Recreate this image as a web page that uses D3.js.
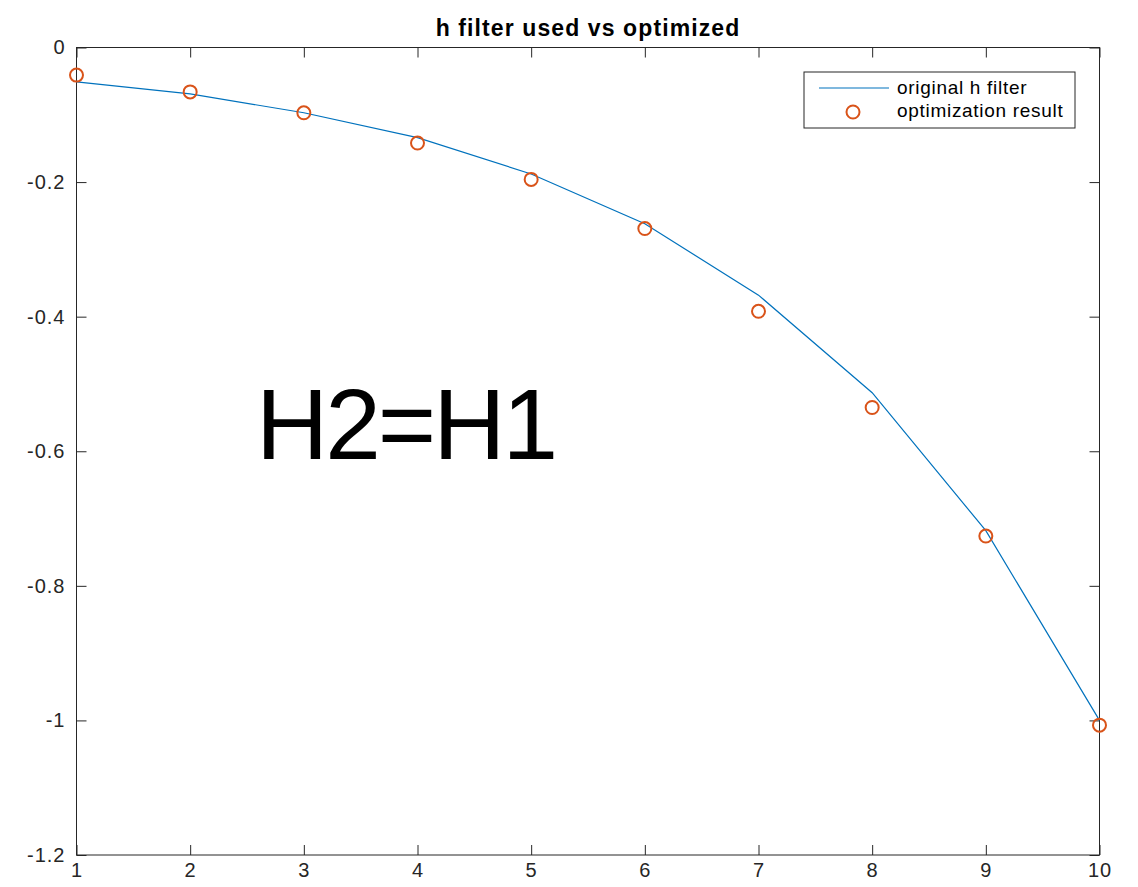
<!DOCTYPE html>
<html>
<head>
<meta charset="utf-8">
<script src="https://cdn.jsdelivr.net/npm/d3@7"></script>
<style>
  body { margin: 0; background: #fff; }
  svg text { font-family: "Liberation Sans", Arial, Helvetica, sans-serif; fill: #262626; }
</style>
</head>
<body>
<svg id="chart" width="1138" height="887"></svg>
<script>
// data
const xValues = [1, 2, 3, 4, 5, 6, 7, 8, 9, 10];
const originalH = [-0.051, -0.069, -0.097, -0.134, -0.188, -0.262, -0.368, -0.513, -0.718, -1.0];
const optimized = [-0.041, -0.066, -0.097, -0.142, -0.196, -0.269, -0.392, -0.535, -0.726, -1.007];
const xTicks = [1, 2, 3, 4, 5, 6, 7, 8, 9, 10];
const yTicks = [0, -0.2, -0.4, -0.6, -0.8, -1, -1.2];
const seriesNames = ["original h filter", "optimization result"];

const margin = { top: 47.5, right: 38.5, bottom: 32, left: 76.5 };
const width = 1138, height = 887;

const svg = d3.select("#chart");

const x = d3.scaleLinear().domain([1, 10]).range([margin.left, width - margin.right]);
const y = d3.scaleLinear().domain([-1.2, 0]).range([height - margin.bottom, margin.top]);

const axisColor = "#262626";
const tickLen = 10;

// frame
svg.append("rect")
  .attr("x", x(1)).attr("y", y(0))
  .attr("width", x(10) - x(1)).attr("height", y(-1.2) - y(0))
  .attr("fill", "none").attr("stroke", axisColor).attr("stroke-width", 1);

// plain hyphen minus like the original
const fmt = d => String(d);

const xBottom = d3.axisBottom(x).tickValues(xTicks).tickSizeInner(-tickLen).tickSizeOuter(0).tickPadding(8).tickFormat(fmt);
const xTop = d3.axisTop(x).tickValues(xTicks).tickSizeInner(-tickLen).tickSizeOuter(0).tickFormat("");
const yLeft = d3.axisLeft(y).tickValues(yTicks).tickSizeInner(-tickLen).tickSizeOuter(0).tickPadding(11).tickFormat(fmt);
const yRight = d3.axisRight(y).tickValues(yTicks).tickSizeInner(-tickLen).tickSizeOuter(0).tickFormat("");

function styleAxis(g) {
  g.attr("font-size", null).attr("font-family", null);
  g.select(".domain").remove();
  g.selectAll(".tick line").attr("stroke", axisColor);
  g.selectAll(".tick text")
    .style("font-size", "20px")
    .style("letter-spacing", "1px")
    .style("fill", axisColor);
}

svg.append("g").attr("transform", `translate(0,${y(-1.2)})`).call(xBottom).call(styleAxis);
svg.append("g").attr("transform", `translate(0,${y(0)})`).call(xTop).call(styleAxis);
svg.append("g").attr("transform", `translate(${x(1)},0)`).call(yLeft).call(styleAxis);
svg.append("g").attr("transform", `translate(${x(10)},0)`).call(yRight).call(styleAxis);

// line
const line = d3.line().x((d, i) => x(xValues[i])).y(d => y(d));
svg.append("path")
  .datum(originalH)
  .attr("d", line)
  .attr("fill", "none")
  .attr("stroke", "#0072BD")
  .attr("stroke-width", 1.2);

// circles
svg.append("g").selectAll("circle")
  .data(optimized)
  .join("circle")
  .attr("cx", (d, i) => x(xValues[i]))
  .attr("cy", d => y(d))
  .attr("r", 6.5)
  .attr("fill", "none")
  .attr("stroke", "#D95319")
  .attr("stroke-width", 2);

// title
svg.append("text")
  .attr("x", (x(1) + x(10)) / 2)
  .attr("y", 36)
  .attr("text-anchor", "middle")
  .style("font-size", "23px")
  .style("letter-spacing", "1.1px")
  .attr("font-weight", "bold")
  .style("fill", "#000")
  .text("h filter used vs optimized");

// annotation
svg.append("text")
  .attr("x", 256)
  .attr("y", 459)
  .style("font-size", "100px")
  .style("letter-spacing", "-3px")
  .style("fill", "#000")
  .text("H2=H1");

// legend
const legend = svg.append("g");
legend.append("rect")
  .attr("x", 804).attr("y", 72)
  .attr("width", 271).attr("height", 56)
  .attr("fill", "#fff").attr("stroke", axisColor).attr("stroke-width", 1);
legend.append("line")
  .attr("x1", 819).attr("x2", 889).attr("y1", 88).attr("y2", 88)
  .attr("stroke", "#0072BD").attr("stroke-width", 1.2);
legend.append("circle")
  .attr("cx", 853).attr("cy", 112).attr("r", 6.5)
  .attr("fill", "none").attr("stroke", "#D95319").attr("stroke-width", 2);
legend.selectAll("text.lbl")
  .data(seriesNames)
  .join("text")
  .attr("class", "lbl")
  .attr("x", 897)
  .attr("y", (d, i) => 94 + i * 23)
  .style("font-size", "19px")
  .style("letter-spacing", "0.7px")
  .style("fill", "#000")
  .text(d => d);
</script>
</body>
</html>
